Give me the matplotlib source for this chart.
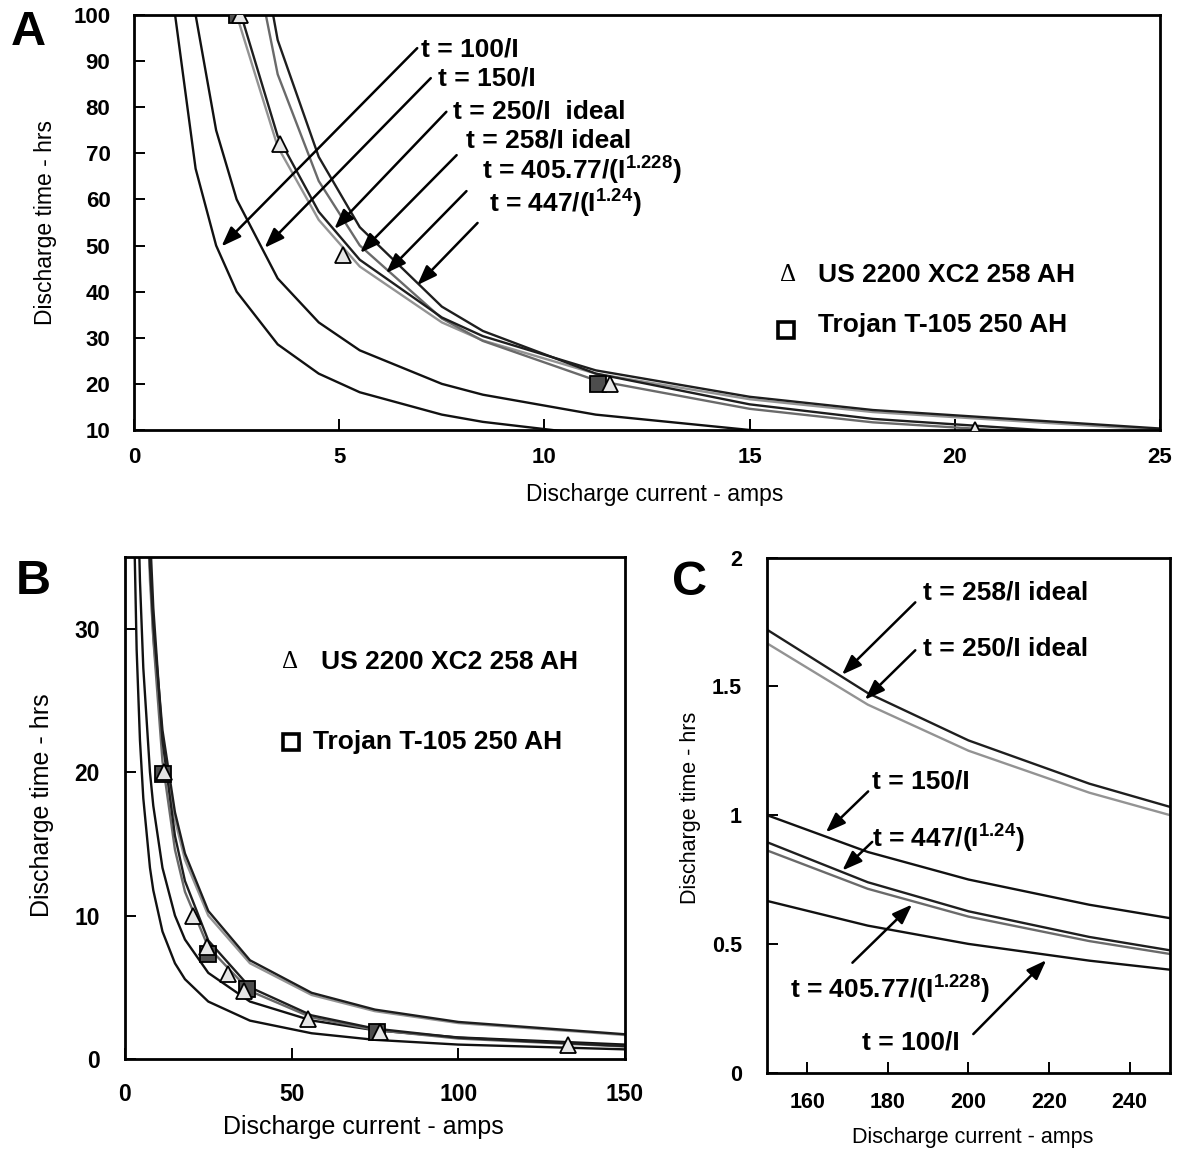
import matplotlib
matplotlib.use("Agg")
import matplotlib.pyplot as plt

plt.rcParams['font.family'] = ['Liberation Sans', 'DejaVu Sans']
plt.rcParams['mathtext.fontset'] = 'custom'
plt.rcParams['mathtext.rm'] = 'Liberation Sans'
plt.rcParams['mathtext.bf'] = 'Liberation Sans:bold'

# ---------------- data ----------------
current = [1, 1.5, 2, 2.5, 3.5, 4.5, 5.5, 7.5, 8.5, 11.25, 15, 18, 25, 37.5,
           56, 75, 100, 150, 175, 200, 230, 250]
t_100 = [100, 66.67, 50, 40, 28.57, 22.22, 18.18, 13.33, 11.76, 8.89, 6.67,
         5.56, 4.0, 2.67, 1.79, 1.33, 1.0, 0.667, 0.571, 0.5, 0.435, 0.4]
t_150 = [150, 100, 75, 60, 42.86, 33.33, 27.27, 20, 17.65, 13.33, 10, 8.33,
         6, 4, 2.68, 2, 1.5, 1.0, 0.857, 0.75, 0.652, 0.6]
t_250 = [250, 166.67, 125, 100, 71.43, 55.56, 45.45, 33.33, 29.41, 22.22,
         16.67, 13.89, 10, 6.67, 4.46, 3.33, 2.5, 1.667, 1.429, 1.25, 1.087, 1.0]
t_258 = [258, 172, 129, 103.2, 73.71, 57.33, 46.91, 34.4, 30.35, 22.93, 17.2,
         14.33, 10.32, 6.88, 4.61, 3.44, 2.58, 1.72, 1.474, 1.29, 1.122, 1.032]
t_405 = [405.77, 246.63, 173.23, 131.71, 87.13, 63.99, 50.02, 34.17, 29.31,
         20.77, 14.59, 11.66, 7.79, 4.736, 2.894, 2.022, 1.42, 0.863, 0.714,
         0.606, 0.511, 0.461]
t_447 = [447, 270.4, 189.2, 143.5, 94.55, 69.23, 53.98, 36.75, 31.47, 22.23,
         15.56, 12.41, 8.258, 4.995, 3.038, 2.115, 1.48, 0.895, 0.7395, 0.6267,
         0.527, 0.4752]

us_current = [2.58, 3.55, 5.1, 11.6, 20.5, 24.6, 30.8, 35.6, 55, 76.5, 133]
us_time = [100, 72, 48, 20, 10, 7.8, 5.9, 4.75, 2.8, 1.85, 1.0]
tr_current = [2.5, 11.3, 24.9, 36.7, 75.5]
tr_time = [100, 19.9, 7.3, 4.85, 1.9]

labels = {
    '100': 't = 100/I',
    '150': 't = 150/I',
    '250A': 't = 250/I  ideal',
    '250': 't = 250/I ideal',
    '258': 't = 258/I ideal',
    '405': r't = 405.77/(I$^{\mathregular{1.228}}$)',
    '447': r't = 447/(I$^{\mathregular{1.24}}$)',
}
leg_us = 'US 2200 XC2 258 AH'
leg_tr = 'Trojan T-105 250 AH'

series = [
    (t_100, '#111111'),
    (t_150, '#111111'),
    (t_250, '#939393'),
    (t_405, '#6a6a6a'),
    (t_258, '#1e1e1e'),
    (t_447, '#1e1e1e'),
]

# ---------------- figure ----------------
fig = plt.figure(figsize=(11.8, 11.5), dpi=100)
axA = fig.add_axes([0.1136, 0.6261, 0.8695, 0.3609])
axB = fig.add_axes([0.1059, 0.0792, 0.4237, 0.4364])
axC = fig.add_axes([0.6500, 0.0672, 0.3415, 0.4480])


def draw_curves(ax, lw=1.7):
    for vals, col in series:
        ax.plot(current, vals, color=col, lw=lw, zorder=2)


def style(ax, fs, padx, pady):
    for s in ax.spines.values():
        s.set_linewidth(2.0)
        s.set_color('black')
    ax.tick_params(direction='in', length=8, width=1.4, labelsize=fs)
    ax.tick_params(axis='x', pad=padx)
    ax.tick_params(axis='y', pad=pady)
    for lab in ax.get_xticklabels() + ax.get_yticklabels():
        lab.set_fontweight('bold')


def markers(ax, ms_sq=10, ms_tri=10):
    ax.plot(tr_current, tr_time, linestyle='none', marker='s', ms=ms_sq,
            mfc='#4d4d4d', mec='black', mew=1.3, zorder=3)
    ax.plot(us_current, us_time, linestyle='none', marker='^', ms=ms_tri,
            mfc='#e6e6e6', mec='black', mew=1.3, zorder=4)


arrow_kw = dict(arrowstyle='-|>,head_length=0.6,head_width=0.22',
                color='black', lw=1.8, shrinkA=0, shrinkB=0,
                mutation_scale=20)
ann_fs = 19

# ---------------- Panel A ----------------
draw_curves(axA)
markers(axA, ms_sq=11, ms_tri=11)
axA.set_xlim(0, 25)
axA.set_ylim(10, 100)
axA.set_xticks([0, 5, 10, 15, 20, 25])
axA.set_yticks([10, 20, 30, 40, 50, 60, 70, 80, 90, 100])
style(axA, 16, 12, 17)
axA.set_xlabel('Discharge current - amps', fontsize=16.5)
axA.set_ylabel('Discharge time - hrs', fontsize=16.5)
axA.xaxis.set_label_coords(0.507, -0.128)
axA.yaxis.set_label_coords(-0.075, 0.50)

A_ann = [
    ('100', (7.0, 92.6), (6.9, 92.8), (2.13, 49.8)),
    ('150', (7.4, 86.3), (7.23, 86.3), (3.18, 49.5)),
    ('250A', (7.76, 79.0), (7.61, 79.0), (4.88, 53.6)),
    ('258', (8.1, 72.7), (7.86, 69.6), (5.51, 48.4)),
    ('405', (8.47, 66.4), (8.1, 61.8), (6.14, 44.0)),
    ('447', (8.64, 59.4), (8.37, 54.9), (6.9, 41.4)),
]
for key, tpos, start, tip in A_ann:
    axA.text(tpos[0], tpos[1], labels[key], fontsize=ann_fs, fontweight='bold',
             ha='left', va='center', zorder=6)
    axA.annotate('', xy=tip, xytext=start, arrowprops=arrow_kw, zorder=5)

axA.text(0.6370, 0.3735, '\u0394', transform=axA.transAxes, fontsize=18,
         family='Liberation Serif', ha='center', va='center')
axA.text(0.6666, 0.3735, leg_us, transform=axA.transAxes, fontsize=19,
         fontweight='bold', ha='left', va='center')
axA.plot([0.6350], [0.241], transform=axA.transAxes, marker='s', ms=11,
         mfc='white', mec='black', mew=2.6, clip_on=False)
axA.text(0.6666, 0.253, leg_tr, transform=axA.transAxes, fontsize=19,
         fontweight='bold', ha='left', va='center')

# ---------------- Panel B ----------------
draw_curves(axB)
markers(axB, ms_sq=11, ms_tri=11)
axB.set_xlim(0, 150)
axB.set_ylim(0, 35)
axB.set_xticks([0, 50, 100, 150])
axB.set_yticks([0, 10, 20, 30])
style(axB, 16.5, 17, 18)
axB.set_xlabel('Discharge current - amps', fontsize=18)
axB.set_ylabel('Discharge time - hrs', fontsize=18)
axB.xaxis.set_label_coords(0.476, -0.112)
axB.yaxis.set_label_coords(-0.142, 0.505)

axB.text(0.331, 0.790, '\u0394', transform=axB.transAxes, fontsize=18,
         family='Liberation Serif', ha='center', va='center')
axB.text(0.392, 0.790, leg_us, transform=axB.transAxes, fontsize=19,
         fontweight='bold', ha='left', va='center')
axB.plot([0.332], [0.631], transform=axB.transAxes, marker='s', ms=11,
         mfc='white', mec='black', mew=2.6, clip_on=False)
axB.text(0.376, 0.631, leg_tr, transform=axB.transAxes, fontsize=19,
         fontweight='bold', ha='left', va='center')

# ---------------- Panel C ----------------
draw_curves(axC)
axC.set_xlim(150, 250)
axC.set_ylim(0, 2)
axC.set_xticks([160, 180, 200, 220, 240])
axC.set_yticks([0, 0.5, 1, 1.5, 2])
axC.set_yticklabels(['0', '0.5', '1', '1.5', '2'])
style(axC, 15.5, 14, 18)
axC.set_xlabel('Discharge current - amps', fontsize=15.5)
axC.set_ylabel('Discharge time - hrs', fontsize=15.5)
axC.xaxis.set_label_coords(0.511, -0.105)
axC.yaxis.set_label_coords(-0.165, 0.514)

C_ann = [
    ('258', (188.7, 1.863), (186.8, 1.826), (168.6, 1.545)),
    ('250', (188.7, 1.648), (186.8, 1.640), (174.3, 1.448)),
    ('150', (176.1, 1.130), (175.1, 1.092), (164.6, 0.933)),
    ('447', (176.1, 0.911), (176.1, 0.896), (168.7, 0.785)),
    ('405', (155.6, 0.328), (171.2, 0.427), (186.0, 0.653)),
    ('100', (173.6, 0.116), (201.2, 0.150), (219.3, 0.437)),
]
for key, tpos, start, tip in C_ann:
    axC.text(tpos[0], tpos[1], labels[key], fontsize=ann_fs, fontweight='bold',
             ha='left', va='center', zorder=6)
    axC.annotate('', xy=tip, xytext=start, arrowprops=arrow_kw, zorder=5)

# ---------------- panel letters ----------------
fig.text(28 / 1180, 1 - 45 / 1150, 'A', fontsize=35, fontweight='bold',
         ha='center', va='baseline')
fig.text(33 / 1180, 1 - 594 / 1150, 'B', fontsize=35, fontweight='bold',
         ha='center', va='baseline')
fig.text(690 / 1180, 1 - 595 / 1150, 'C', fontsize=35, fontweight='bold',
         ha='center', va='baseline')

fig.savefig('out.png', dpi=100)
